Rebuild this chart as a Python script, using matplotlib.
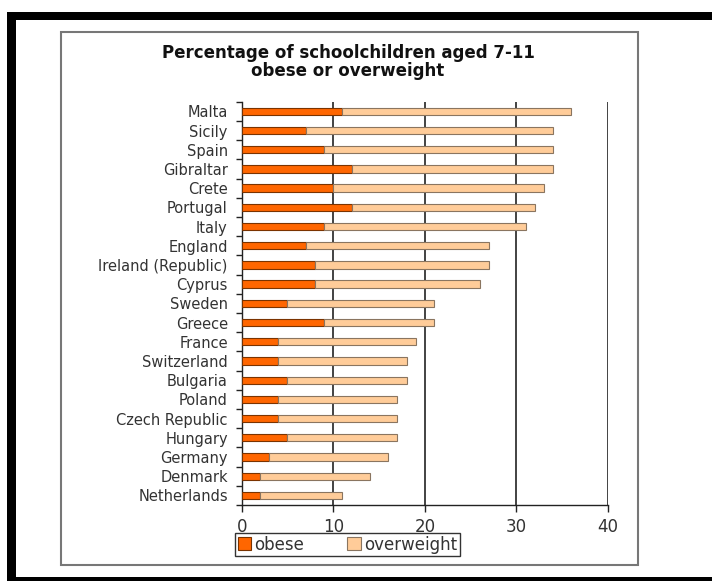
import matplotlib.pyplot as plt
from matplotlib.patches import Rectangle

countries = ["Malta", "Sicily", "Spain", "Gibraltar", "Crete", "Portugal", "Italy",
             "England", "Ireland (Republic)", "Cyprus", "Sweden", "Greece", "France",
             "Switzerland", "Bulgaria", "Poland", "Czech Republic", "Hungary",
             "Germany", "Denmark", "Netherlands"]
obese = [11, 7, 9, 12, 10, 12, 9, 7, 8, 8, 5, 9, 4, 4, 5, 4, 4, 5, 3, 2, 2]
total = [36, 34, 34, 34, 33, 32, 31, 27, 27, 26, 21, 21, 19, 18, 18, 17, 17, 17, 16, 14, 11]
overweight = [t - o for t, o in zip(total, obese)]
x_ticks = [0, 10, 20, 30, 40]

W, H = 712, 581
FONT = "DejaVu Sans"
plt.rcParams["font.family"] = FONT


def fig_rect(fig, x0, y0, x1, y1, **kw):
    """Rectangle given in pixel coords (top-left origin)."""
    r = Rectangle((x0 / W, 1 - y1 / H), (x1 - x0) / W, (y1 - y0) / H,
                  transform=fig.transFigure, **kw)
    fig.add_artist(r)
    return r


fig = plt.figure(figsize=(W / 100, H / 100), dpi=100)
fig.patch.set_facecolor("white")

# outer black frame and inner chart box
fig_rect(fig, 7, 12, W + 5, H + 5, facecolor="black", edgecolor="none", zorder=-3)
fig_rect(fig, 16, 20, W + 5, 577, facecolor="white", edgecolor="none", zorder=-2)
fig_rect(fig, 61, 32, 638, 565, facecolor="white", edgecolor="#777777",
         linewidth=1.5, zorder=-1)

ax = fig.add_axes([241.7 / W, 1 - 505 / H, (608 - 241.7) / W, (505 - 101.7) / H])
ax.set_facecolor("none")

y = list(range(len(countries)))
ax.barh(y, obese, height=0.38, color="#FF6600", edgecolor="#7a3300",
        linewidth=0.8, label="obese", zorder=3)
ax.barh(y, overweight, left=obese, height=0.38, color="#FFCC99",
        edgecolor="#8a7560", linewidth=0.8, label="overweight", zorder=3)

ax.set_xlim(0, 40)
ax.set_ylim(len(countries) - 0.5, -0.5)
ax.set_xticks(x_ticks)
ax.set_xticklabels([str(v) for v in x_ticks])
ax.set_yticks(y)
ax.set_yticklabels(countries)
ax.set_yticks([i - 0.5 for i in range(len(countries) + 1)], minor=True)

for v in x_ticks[1:]:
    ax.axvline(v, color="#222222", linewidth=1.2, zorder=1)

for s in ["top", "right"]:
    ax.spines[s].set_visible(False)
for s in ["left", "bottom"]:
    ax.spines[s].set_color("#222222")
    ax.spines[s].set_linewidth(1.0)

ax.tick_params(axis="y", which="major", length=0, pad=10, labelsize=10.5,
               labelcolor="#333333")
ax.tick_params(axis="y", which="minor", length=4, width=1.0, color="#222222")
ax.tick_params(axis="x", which="major", length=5, width=1.0, color="#222222",
               pad=4, labelsize=12, labelcolor="#333333")

fig.text(348 / W, 1 - 53 / H, "Percentage of schoolchildren aged 7-11",
         ha="center", va="center", fontsize=12, fontweight="bold", color="#111111")
fig.text(348 / W, 1 - 70.5 / H, "obese or overweight",
         ha="center", va="center", fontsize=12, fontweight="bold", color="#111111")

leg = fig.legend(loc="upper left", bbox_to_anchor=(235 / W, 1 - 533 / H),
                 ncol=2, frameon=True, fancybox=False, fontsize=12,
                 handlelength=0.8, handleheight=0.8, handletextpad=0.2,
                 columnspacing=2.6, borderpad=0.15, borderaxespad=0)
leg.get_frame().set_edgecolor("black")
leg.get_frame().set_linewidth(1.0)
for t in leg.get_texts():
    t.set_color("#333333")

fig.savefig("out.png", dpi=100)
